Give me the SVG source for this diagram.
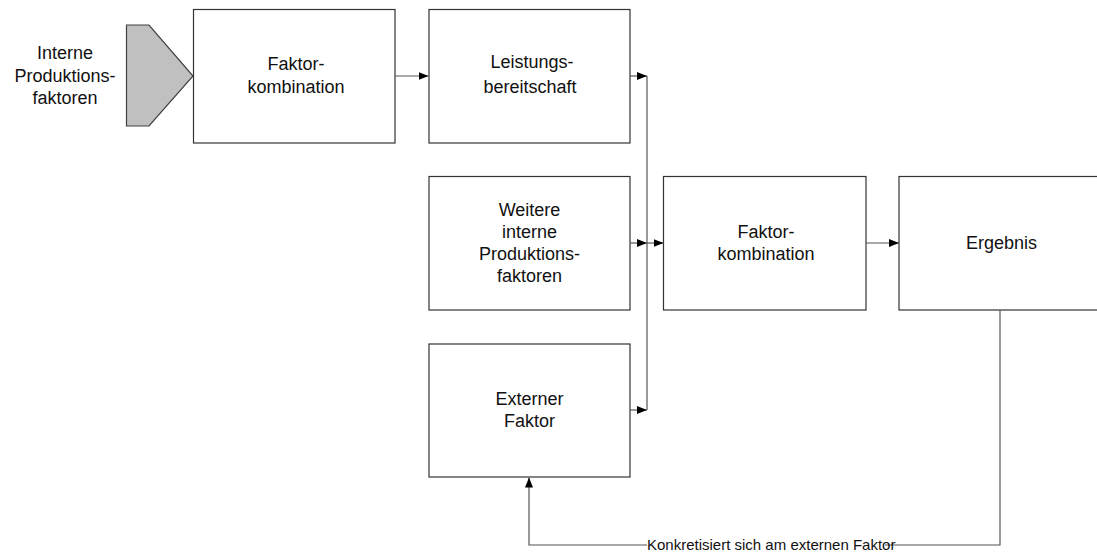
<svg xmlns="http://www.w3.org/2000/svg" width="1097" height="552" viewBox="0 0 1097 552">
<defs>
<marker id="ah" markerWidth="10" markerHeight="8" refX="10" refY="4" orient="auto" markerUnits="userSpaceOnUse">
<path d="M0,0 L10,4 L0,8 Z" fill="#000"/>
</marker>
<style>
.box{fill:#fff;stroke:#333;stroke-width:1.2}
.t{font-family:"Liberation Sans",Arial,sans-serif;font-size:18px;fill:#111;text-anchor:middle}
.c{fill:none;stroke:#555;stroke-width:1.2}
.lbl{font-family:"Liberation Sans",Arial,sans-serif;font-size:15px;fill:#111;text-anchor:start}
</style>
</defs>
<rect width="1097" height="552" fill="#fff"/>
<g id="input">
<polygon points="126.5,25 149,25 193,76 149,126 126.5,126" fill="#c0c0c0" stroke="#404040" stroke-width="1.2"/>
<text class="t" x="65" y="59">Interne</text>
<text class="t" x="65" y="81.5">Produktions-</text>
<text class="t" x="65" y="103.5">faktoren</text>
</g>
<g id="faktorkombination1">
<rect class="box" x="193.5" y="9.5" width="201.5" height="133.5"/>
<text class="t" x="296" y="70">Faktor-</text>
<text class="t" x="296" y="92.5">kombination</text>
</g>
<g id="leistungsbereitschaft">
<rect class="box" x="429" y="9.5" width="201" height="133.5"/>
<text class="t" x="532" y="68">Leistungs-</text>
<text class="t" x="530" y="92.5">bereitschaft</text>
</g>
<g id="weitere">
<rect class="box" x="429" y="176.5" width="201" height="133.5"/>
<text class="t" x="529.5" y="216">Weitere</text>
<text class="t" x="529.5" y="238">interne</text>
<text class="t" x="529.5" y="260">Produktions-</text>
<text class="t" x="529.5" y="281.5">faktoren</text>
</g>
<g id="externer">
<rect class="box" x="429" y="344" width="201" height="133"/>
<text class="t" x="529.5" y="405">Externer</text>
<text class="t" x="529.5" y="427">Faktor</text>
</g>
<g id="faktorkombination2">
<rect class="box" x="663.5" y="176.5" width="202.5" height="133.5"/>
<text class="t" x="766" y="238">Faktor-</text>
<text class="t" x="766" y="260">kombination</text>
</g>
<g id="ergebnis">
<rect class="box" x="899" y="176.5" width="203" height="133.5"/>
<text class="t" x="1001.5" y="249">Ergebnis</text>
</g>
<g id="connectors">
<line class="c" x1="395" y1="76" x2="428.5" y2="76" marker-end="url(#ah)"/>
<line class="c" x1="630" y1="76" x2="647" y2="76" marker-end="url(#ah)"/>
<line class="c" x1="630" y1="243" x2="647" y2="243" marker-end="url(#ah)"/>
<line class="c" x1="630" y1="410" x2="647" y2="410" marker-end="url(#ah)"/>
<line class="c" x1="647" y1="76" x2="647" y2="410"/>
<line class="c" x1="647" y1="243" x2="663.5" y2="243" marker-end="url(#ah)"/>
<line class="c" x1="866" y1="243" x2="899" y2="243" marker-end="url(#ah)"/>
<polyline class="c" points="1000,310 1000,545 885,545"/>
<polyline class="c" points="647,545 529,545 529,477.5" marker-end="url(#ah)"/>
<text class="lbl" x="647" y="550">Konkretisiert sich am externen Faktor</text>
</g>
</svg>
